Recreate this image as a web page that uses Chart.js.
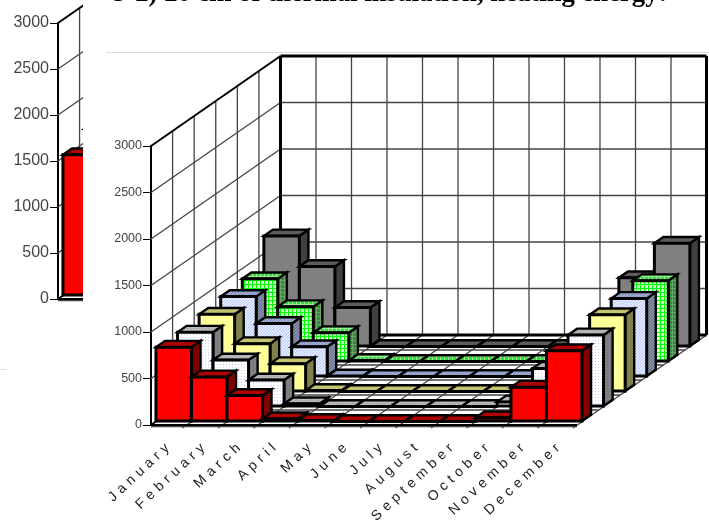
<!DOCTYPE html>
<html>
<head>
<meta charset="utf-8">
<script src="https://cdn.jsdelivr.net/npm/chart.js@4/dist/chart.umd.min.js"></script>
<style>
    html, body { margin: 0; padding: 0; background: #fff; width: 709px; height: 525px; overflow: hidden; }
    #title { position: absolute; left: 113px; top: -23px; line-height: 30px; white-space: nowrap; font-family: "Liberation Serif"; font-weight: bold; font-size: 26.7px; color: #000; }
    #leftBox { position: absolute; left: 0; top: 0; width: 83px; height: 330px; overflow: hidden; background: #fff; z-index: 2; }
    #mainChart { position: absolute; left: 0; top: 0; }
</style>
</head>
<body>
<canvas id="mainChart" width="709" height="525"></canvas>
<div id="leftBox"><canvas id="leftChart" width="400" height="330"></canvas></div>
<div id="title">5-2) 20 cm of thermal insulation, heating energy:</div>
<script>
const months = ["January", "February", "March", "April", "May", "June", "July", "August", "September", "October", "November", "December"];
const yTicks = [0, 500, 1000, 1500, 2000, 2500, 3000];

// front row to back row
const row1 = [800, 480, 280, 30, 10, 0, 0, 0, 0, 40, 370, 760];
const row2 = [800, 500, 285, 30, 0, 0, 0, 0, 0, 50, 410, 770];
const row3 = [830, 515, 300, 10, 0, 0, 0, 0, 0, 30, 440, 825];
const row4 = [860, 570, 320, 5, 0, 0, 0, 0, 0, 40, 430, 840];
const row5 = [890, 590, 310, 10, 0, 0, 0, 0, 0, 40, 480, 870];
const row6 = [1190, 860, 420, 0, 0, 0, 0, 0, 0, 60, 740, 1110];

// the chart cut off at the left edge of the picture
const leftMonths = ["January"];
const leftRow1 = [1530];
const leftRow2 = [1650];

// oblique projection: how far the back wall is shifted from the front
const DEPTH_X = 129.5;
const DEPTH_Y = -90;
const ROWS = 6;
const BAR_INSET = 0.23;
const BAR_DEPTH = 0.42;

function makePattern(size, paint) {
    const c = document.createElement("canvas");
    c.width = size;
    c.height = size;
    paint(c.getContext("2d"));
    return c.getContext("2d").createPattern(c, "repeat");
}

function dotted(bg, dot) {
    return makePattern(3, (p) => {
        p.fillStyle = bg;
        p.fillRect(0, 0, 3, 3);
        p.fillStyle = dot;
        p.fillRect(1, 1, 1, 1);
    });
}

function hatched(bg, line) {
    return makePattern(3, (p) => {
        p.fillStyle = bg;
        p.fillRect(0, 0, 3, 3);
        p.fillStyle = line;
        p.fillRect(0, 2, 1, 1);
        p.fillRect(1, 1, 1, 1);
        p.fillRect(2, 0, 1, 1);
    });
}

function gridded(bg, line) {
    return makePattern(4, (p) => {
        p.fillStyle = bg;
        p.fillRect(0, 0, 4, 4);
        p.fillStyle = line;
        p.fillRect(0, 0, 4, 1);
        p.fillRect(0, 0, 1, 4);
    });
}

const rowStyles = [
    { face: "#ff0000", top: "#b00000", side: "#800000" },
    { face: dotted("#ffffff", "#d0c8ff"), top: dotted("#b8b8b8", "#a0a0a0"), side: dotted("#808080", "#707078") },
    { face: "#ffff99", top: "#c4c470", side: "#80804c" },
    { face: hatched("#e6ecff", "#b4c6fa"), top: hatched("#a0aed4", "#7f8fbc"), side: hatched("#8890a8", "#606c90") },
    { face: gridded("#d0ffd0", "#00ff00"), top: gridded("#30e030", "#a0e8a0"), side: gridded("#309030", "#70a070") },
    { face: "#808080", top: "#5c5c5c", side: "#404040" },
];

function line(ctx, x0, y0, x1, y1) {
    ctx.beginPath();
    ctx.moveTo(x0, y0);
    ctx.lineTo(x1, y1);
    ctx.stroke();
}

function poly(ctx, pts, fill) {
    ctx.beginPath();
    pts.forEach((p, i) => (i ? ctx.lineTo(p[0], p[1]) : ctx.moveTo(p[0], p[1])));
    ctx.closePath();
    ctx.fillStyle = fill;
    ctx.fill();
    ctx.stroke();
}

function drawWalls(chart) {
    const ctx = chart.ctx;
    const xs = chart.scales.x;
    const ys = chart.scales.y;
    const colW = (xs.right - xs.left) / chart.data.labels.length;
    const floorY = ys.getPixelForValue(0);
    const topY = ys.getPixelForValue(3000);

    ctx.save();
    ctx.lineWidth = 1.3;
    ctx.strokeStyle = "#444";

    // value lines on the left and back walls
    yTicks.slice(1, -1).forEach((v) => {
        const y = ys.getPixelForValue(v);
        line(ctx, xs.left, y, xs.left + DEPTH_X, y + DEPTH_Y);
        line(ctx, xs.left + DEPTH_X, y + DEPTH_Y, xs.right + DEPTH_X, y + DEPTH_Y);
    });

    // row lines on the left wall and on the floor
    for (let k = 1; k < ROWS; k++) {
        const dx = (k / ROWS) * DEPTH_X;
        const dy = (k / ROWS) * DEPTH_Y;
        line(ctx, xs.left + dx, topY + dy, xs.left + dx, floorY + dy);
        line(ctx, xs.left + dx, floorY + dy, xs.right + dx, floorY + dy);
    }

    // category lines on the back wall and on the floor
    for (let i = 1; i <= chart.data.labels.length; i++) {
        const x = xs.left + i * colW;
        if (i < chart.data.labels.length) {
            line(ctx, x + DEPTH_X, topY + DEPTH_Y, x + DEPTH_X, floorY + DEPTH_Y);
        }
        line(ctx, x - 4, floorY + 3, x + DEPTH_X, floorY + DEPTH_Y);
    }
    line(ctx, xs.left, floorY + 1.5, xs.right, floorY + 1.5);

    // heavy outline of the box
    ctx.strokeStyle = "#000";
    ctx.lineWidth = 2;
    line(ctx, xs.left, topY, xs.left + DEPTH_X, topY + DEPTH_Y);
    line(ctx, xs.left, floorY, xs.left + DEPTH_X, floorY + DEPTH_Y);
    line(ctx, xs.left, floorY, xs.right, floorY);
    ctx.lineWidth = 3;
    line(ctx, xs.left + DEPTH_X, topY + DEPTH_Y, xs.right + DEPTH_X, topY + DEPTH_Y);
    line(ctx, xs.left + DEPTH_X, topY + DEPTH_Y, xs.left + DEPTH_X, floorY + DEPTH_Y);
    line(ctx, xs.right + DEPTH_X, topY + DEPTH_Y, xs.right + DEPTH_X, floorY + DEPTH_Y);
    line(ctx, xs.left + DEPTH_X, floorY + DEPTH_Y, xs.right + DEPTH_X, floorY + DEPTH_Y);
    ctx.restore();
}

function drawBars(chart) {
    const ctx = chart.ctx;
    ctx.save();
    ctx.strokeStyle = "#000";
    ctx.lineJoin = "miter";
    // back row first, left to right, so nearer bars cover farther ones
    for (let k = chart.data.datasets.length - 1; k >= 0; k--) {
        const style = rowStyles[k];
        const ox = ((k + BAR_INSET) / ROWS) * DEPTH_X;
        const oy = ((k + BAR_INSET) / ROWS) * DEPTH_Y;
        const bx = (BAR_DEPTH / ROWS) * DEPTH_X;
        const by = (BAR_DEPTH / ROWS) * DEPTH_Y;
        chart.getDatasetMeta(k).data.forEach((el) => {
            const x0 = el.x - el.width / 2 + ox;
            const x1 = el.x + el.width / 2 + ox;
            const yt = el.y + oy;
            const yb = el.base + oy;
            ctx.lineWidth = 2.4;
            poly(ctx, [[x1, yt], [x1 + bx, yt + by], [x1 + bx, yb + by], [x1, yb]], style.side);
            poly(ctx, [[x0, yt], [x0 + bx, yt + by], [x1 + bx, yt + by], [x1, yt]], style.top);
            ctx.lineWidth = 3;
            poly(ctx, [[x0, yt], [x1, yt], [x1, yb], [x0, yb]], style.face);
        });
    }
    ctx.restore();
}

const box3d = {
    id: "box3d",
    beforeDatasetsDraw(chart) {
        drawWalls(chart);
        drawBars(chart);
        return false; // flat bars replaced by the projected ones
    },
};

const monthLabels = {
    id: "monthLabels",
    afterDraw(chart) {
        const ctx = chart.ctx;
        const xs = chart.scales.x;
        ctx.save();
        ctx.font = '14px "Liberation Sans"';
        ctx.letterSpacing = "4.7px";
        ctx.fillStyle = "#222";
        ctx.textAlign = "right";
        ctx.textBaseline = "middle";
        chart.data.labels.forEach((name, i) => {
            ctx.save();
            ctx.translate(xs.getPixelForTick(i) + 2, xs.bottom + 18);
            ctx.rotate((-43 * Math.PI) / 180);
            ctx.fillText(name, 0, 0);
            ctx.restore();
        });
        ctx.restore();
        // stray hairlines left in the picture
        ctx.save();
        ctx.strokeStyle = "#dcdcdc";
        ctx.lineWidth = 1;
        line(ctx, 106, 52.5, 709, 52.5);
        line(ctx, 0, 369.5, 6, 369.5);
        ctx.restore();
    },
};

function yAxis(fontSize, axisWidth, padding) {
    return {
        min: 0,
        max: 3000,
        afterFit: (scale) => { scale.width = axisWidth; },
        afterBuildTicks: (scale) => { scale.ticks = yTicks.map((v) => ({ value: v })); },
        border: { display: true, color: "#000", width: 2 },
        grid: { drawOnChartArea: false, drawTicks: true, tickLength: 8, color: "#000", lineWidth: 1 },
        ticks: {
            padding: padding,
            color: "#444",
            font: { family: "Liberation Sans", size: fontSize },
            callback: (value) => String(value),
        },
    };
}

const hiddenX = {
    afterFit: (scale) => { scale.height = 0; },
    border: { display: false },
    grid: { display: false },
    ticks: { display: false },
};

const barDefaults = { grouped: false, barPercentage: 1, categoryPercentage: 1 };

new Chart(document.getElementById("mainChart"), {
    type: "bar",
    data: {
        labels: months,
        datasets: [row1, row2, row3, row4, row5, row6].map((values) => ({ data: values })),
    },
    options: {
        responsive: false,
        animation: false,
        datasets: { bar: barDefaults },
        layout: { padding: { left: 0, right: 132, top: 146, bottom: 100 } },
        plugins: { legend: { display: false }, title: { display: false }, tooltip: { enabled: false } },
        scales: { x: hiddenX, y: yAxis(12.5, 151, 1) },
    },
    plugins: [box3d, monthLabels],
});

new Chart(document.getElementById("leftChart"), {
    type: "bar",
    data: {
        labels: leftMonths,
        datasets: [leftRow1, leftRow2].map((values) => ({ data: values })),
    },
    options: {
        responsive: false,
        animation: false,
        datasets: { bar: barDefaults },
        layout: { padding: { left: 0, right: 42, top: 23, bottom: 31 } },
        plugins: { legend: { display: false }, title: { display: false }, tooltip: { enabled: false } },
        scales: { x: hiddenX, y: yAxis(16, 58, 1) },
    },
    plugins: [box3d],
});
</script>
</body>
</html>
